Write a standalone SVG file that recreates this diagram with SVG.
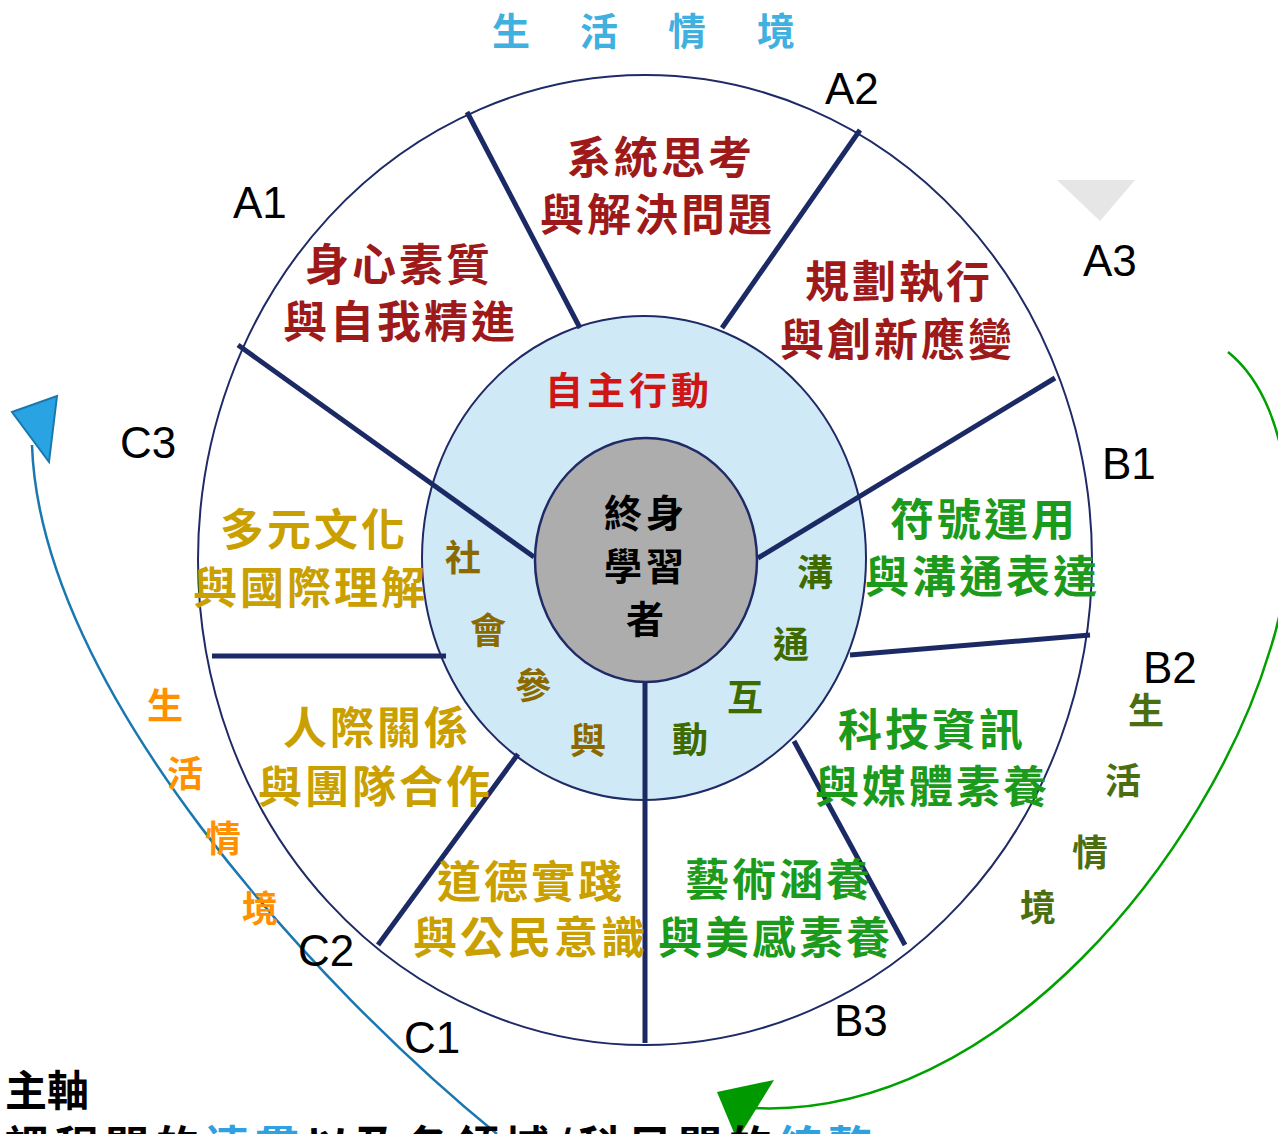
<svg xmlns="http://www.w3.org/2000/svg" width="1278" height="1134" viewBox="0 0 1278 1134">
<style>
.cjk{font-family:"Noto Sans CJK TC","Noto Sans CJK SC",sans-serif;font-weight:700}
.lab{font-family:"Liberation Sans",Arial,sans-serif;font-size:44px;fill:#000}
.seg{font-size:44px;letter-spacing:3px}
.a{fill:#9e1a1a}.b{fill:#1c9a1c}.c{fill:#c9a000}
.ro{fill:#8a6a00;font-size:36px}.rg{fill:#3e6a00;font-size:36px}
.spoke{stroke:#1b2a64;stroke-width:5;fill:none}
</style>
<rect width="1278" height="1134" fill="#fff"/>
<g id="outer"><ellipse cx="645" cy="560" rx="447" ry="485" fill="#fff" stroke="#1f2a66" stroke-width="2"/></g>
<g id="ring"><ellipse cx="644" cy="558" rx="222" ry="242" fill="#cfe9f6" stroke="#1f2a66" stroke-width="2"/></g>
<g id="connectors">
<line class="spoke" x1="467" y1="112" x2="580" y2="328"/>
<line class="spoke" x1="860" y1="130" x2="722" y2="328"/>
<line class="spoke" x1="1055" y1="378" x2="758" y2="558"/>
<line class="spoke" x1="238" y1="345" x2="534" y2="557"/>
<line class="spoke" x1="1090" y1="635" x2="850" y2="655"/>
<line class="spoke" x1="212" y1="656" x2="446" y2="656"/>
<line class="spoke" x1="378" y1="945" x2="518" y2="754"/>
<line class="spoke" x1="645" y1="1043" x2="645" y2="681"/>
<line class="spoke" x1="905" y1="945" x2="794" y2="741"/>
<path d="M497 1134 C320 990 40 690 32 445" fill="none" stroke="#1a78b0" stroke-width="2.5"/>
<polygon points="12,412 57,396 49,462" fill="#29a3e2" stroke="#1a78b0" stroke-width="2"/>
<path d="M1228 352 C1300 410 1300 560 1270 650 C1210 850 1000 1120 753 1108" fill="none" stroke="#00a000" stroke-width="2.5"/>
<polygon points="717,1092 774,1080 737,1140" fill="#009900"/>
<polygon points="1057,180 1135,180 1100,221" fill="#e6e6e6"/>
</g>
<g id="center">
<ellipse cx="646" cy="560" rx="111" ry="122" fill="#adadad" stroke="#1f2a66" stroke-width="2.5"/>
<text class="cjk" x="604" y="527" font-size="38" letter-spacing="4" fill="#000">終身</text>
<text class="cjk" x="604" y="580" font-size="38" letter-spacing="4" fill="#000">學習</text>
<text class="cjk" x="626" y="633" font-size="38" fill="#000">者</text>
</g>
<g id="top-label"><text class="cjk" y="45" font-size="38" fill="#3fb0e0"><tspan x="492">生</tspan><tspan x="580">活</tspan><tspan x="668">情</tspan><tspan x="757">境</tspan></text></g>
<g id="labels">
<text class="lab" x="233" y="218">A1</text>
<text class="lab" x="825" y="104">A2</text>
<text class="lab" x="1083" y="276">A3</text>
<text class="lab" x="1102" y="479">B1</text>
<text class="lab" x="1143" y="683">B2</text>
<text class="lab" x="834" y="1036">B3</text>
<text class="lab" x="404" y="1053">C1</text>
<text class="lab" x="298" y="966">C2</text>
<text class="lab" x="120" y="458">C3</text>
</g>
<g id="A1"><text class="cjk seg a" x="305" y="281">身心素質</text><text class="cjk seg a" x="283" y="338">與自我精進</text></g>
<g id="A2"><text class="cjk seg a" x="567" y="174">系統思考</text><text class="cjk seg a" x="540" y="231">與解決問題</text></g>
<g id="A3"><text class="cjk seg a" x="805" y="298">規劃執行</text><text class="cjk seg a" x="780" y="356">與創新應變</text></g>
<g id="B1"><text class="cjk seg b" x="890" y="536">符號運用</text><text class="cjk seg b" x="865" y="593">與溝通表達</text></g>
<g id="B2"><text class="cjk seg b" x="838" y="746">科技資訊</text><text class="cjk seg b" x="815" y="803">與媒體素養</text></g>
<g id="B3"><text class="cjk seg b" x="685" y="896">藝術涵養</text><text class="cjk seg b" x="658" y="954">與美感素養</text></g>
<g id="C1"><text class="cjk seg c" x="437" y="898">道德實踐</text><text class="cjk seg c" x="413" y="954">與公民意識</text></g>
<g id="C2"><text class="cjk seg c" x="283" y="744">人際關係</text><text class="cjk seg c" x="258" y="803">與團隊合作</text></g>
<g id="C3"><text class="cjk seg c" x="220" y="546">多元文化</text><text class="cjk seg c" x="193" y="604">與國際理解</text></g>
<g id="ring-texts">
<text class="cjk" x="545" y="404" font-size="38" letter-spacing="4" fill="#d01515">自主行動</text>
<text class="cjk ro" x="445" y="571">社</text><text class="cjk ro" x="470" y="644">會</text><text class="cjk ro" x="515" y="699">參</text><text class="cjk ro" x="570" y="754">與</text>
<text class="cjk rg" x="797" y="586">溝</text><text class="cjk rg" x="773" y="658">通</text><text class="cjk rg" x="727" y="711">互</text><text class="cjk rg" x="672" y="753">動</text>
</g>
<g id="side-left"><text class="cjk" font-size="36" fill="#ff9000"><tspan x="147" y="719">生</tspan><tspan x="167" y="787">活</tspan><tspan x="205" y="852">情</tspan><tspan x="242" y="922">境</tspan></text></g>
<g id="side-right"><text class="cjk" font-size="36" fill="#4b6e10"><tspan x="1128" y="724">生</tspan><tspan x="1105" y="794">活</tspan><tspan x="1072" y="866">情</tspan><tspan x="1020" y="921">境</tspan></text></g>
<g id="caption">
<text class="cjk" x="5" y="1106" font-size="42" fill="#000">主軸</text>
<text class="cjk" x="5" y="1163" font-size="44" letter-spacing="6" fill="#000">課程間的<tspan fill="#2fa0e0">連貫</tspan>以及各領域/科目間的<tspan fill="#2fa0e0">統整</tspan></text>
</g>
</svg>
